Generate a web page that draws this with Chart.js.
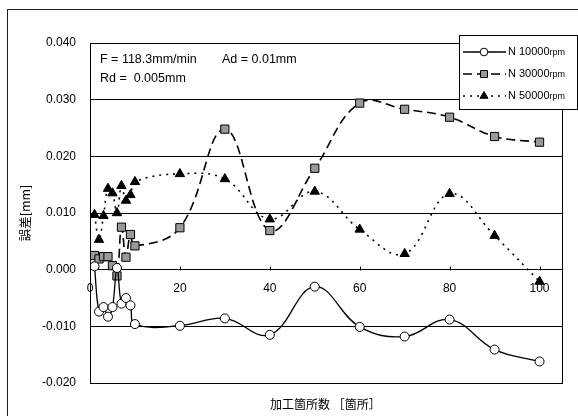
<!DOCTYPE html>
<html>
<head>
<meta charset="utf-8">
<script src="https://cdn.jsdelivr.net/npm/chart.js@4/dist/chart.umd.min.js"></script>
<style>
    body { margin: 0; background: #fff; overflow: hidden; }
    #wrap { position: relative; width: 578px; height: 416px; }
    #frame { position: absolute; left: 7px; top: 9px; width: 600px; height: 440px; border: 1.5px solid #222; }
    canvas { position: absolute; left: 0; top: 0; }
</style>
</head>
<body>
<div id="wrap">
    <div id="frame"></div>
    <canvas id="myChart" width="578" height="416"></canvas>
</div>
<script>
// measuring points (加工箇所数)
var points = [1, 2, 3, 4, 5, 6, 7, 8, 9, 10, 20, 30, 40, 50, 60, 70, 80, 90, 100];

// error [mm] per spindle speed
var n10000 = [0.0006, -0.0074, -0.0066, -0.0083, -0.0066, 0.0003, -0.0060, -0.0050, -0.0063, -0.0096,
    -0.0099, -0.0086, -0.0115, -0.0030, -0.0101, -0.0118, -0.0088, -0.0141, -0.0162];
var n30000 = [0.0025, 0.0019, 0.0023, 0.0023, 0.0007, -0.0011, 0.0075, 0.0022, 0.0062, 0.0042,
    0.0074, 0.0248, 0.0069, 0.0179, 0.0294, 0.0283, 0.0269, 0.0235, 0.0225];
var n50000 = [0.0097, 0.0053, 0.0095, 0.0143, 0.0135, 0.0100, 0.0148, 0.0122, 0.0132, 0.0155,
    0.0169, 0.0160, 0.0089, 0.0138, 0.0071, 0.0028, 0.0134, 0.0060, -0.0021];

var seriesNames = ['N 10000', 'N 30000', 'N 50000'];
var xTicks = [0, 20, 40, 60, 80, 100];

var latin = "Arial, 'Liberation Sans', sans-serif";
var cjk = "'Noto Sans CJK JP', sans-serif";

function toXY(values) {
    return values.map(function(v, i) { return {x: points[i], y: v}; });
}

var styles = [
    {pointStyle: 'circle', radius: 4.5, bg: '#fff', dash: [], width: 1.3},
    {pointStyle: 'rect', radius: 5.8, bg: '#9a9a9a', dash: [9, 5], width: 1.6},
    {pointStyle: 'triangle', radius: 5.4, bg: '#000', dash: [2, 5], width: 1.6}
];
var seriesData = [n10000, n30000, n50000];

var datasets = seriesData.map(function(values, i) {
    var s = styles[i];
    return {
        label: seriesNames[i] + 'rpm',
        data: toXY(values),
        borderColor: '#000',
        borderWidth: s.width,
        borderDash: s.dash,
        tension: 0.4,
        pointStyle: s.pointStyle,
        pointRadius: s.radius,
        pointBackgroundColor: s.bg,
        pointBorderColor: '#000',
        pointBorderWidth: 1
    };
});

var extras = {
    id: 'extras',
    afterDraw: function(chart) {
        var ctx = chart.ctx;
        var area = chart.chartArea;
        var xs = chart.scales.x;
        var ys = chart.scales.y;
        ctx.save();

        // plot box
        ctx.strokeStyle = '#000';
        ctx.lineWidth = 1;
        ctx.setLineDash([]);
        ctx.strokeRect(Math.round(area.left) + 0.5, Math.round(area.top) + 0.5,
            Math.round(area.right - area.left), Math.round(area.bottom - area.top));

        // x ticks point up from the zero line
        var y0 = Math.round(ys.getPixelForValue(0)) + 0.5;
        xTicks.forEach(function(t) {
            var px = Math.round(xs.getPixelForValue(t)) + 0.5;
            ctx.beginPath();
            ctx.moveTo(px, y0);
            ctx.lineTo(px, y0 - 4);
            ctx.stroke();
        });

        // conditions
        ctx.fillStyle = '#000';
        ctx.font = '12.5px ' + latin;
        ctx.textBaseline = 'middle';
        ctx.textAlign = 'left';
        ctx.fillText('F = 118.3mm/min', 100, 60);
        ctx.fillText('Ad = 0.01mm', 222, 60);
        ctx.fillText('Rd =  0.005mm', 100, 79);

        // axis titles
        ctx.font = '12px ' + cjk;
        ctx.fillText('加工箇所数 ［箇所］', 270, 404);
        ctx.save();
        ctx.translate(25, 213);
        ctx.rotate(-Math.PI / 2);
        ctx.textAlign = 'center';
        ctx.font = '12.5px ' + cjk;
        ctx.fillText('誤差[mm]', 0, 0);
        ctx.restore();

        // legend
        ctx.fillStyle = '#fff';
        ctx.fillRect(459, 35, 118, 74);
        ctx.strokeStyle = '#000';
        ctx.strokeRect(459.5, 35.5, 118, 74);
        var rows = [52, 74, 96];
        rows.forEach(function(ry, i) {
            var s = styles[i];
            ctx.strokeStyle = '#000';
            ctx.lineWidth = s.width;
            ctx.setLineDash(s.dash);
            ctx.beginPath();
            ctx.moveTo(463, ry);
            ctx.lineTo(506, ry);
            ctx.stroke();
            ctx.setLineDash([]);
            ctx.lineWidth = 1;
            ctx.fillStyle = s.bg;
            Chart.helpers.drawPoint(ctx, {pointStyle: s.pointStyle, radius: s.radius * 0.85, rotation: 0, borderWidth: 1}, 484, ry);
            ctx.fillStyle = '#000';
            ctx.font = '11px ' + latin;
            ctx.fillText(seriesNames[i], 508, ry);
            var w = ctx.measureText(seriesNames[i]).width;
            ctx.font = '9px ' + latin;
            ctx.fillText('rpm', 508 + w, ry + 1);
        });

        ctx.restore();
    }
};

var chart = new Chart(document.getElementById('myChart').getContext('2d'), {
    type: 'line',
    data: {datasets: datasets},
    options: {
        responsive: false,
        animation: false,
        devicePixelRatio: 1,
        layout: {padding: {left: 0, top: 43, right: 16, bottom: 33}},
        plugins: {legend: {display: false}, tooltip: {enabled: false}},
        scales: {
            x: {
                type: 'linear',
                min: 0,
                max: 105,
                position: {y: 0},
                afterBuildTicks: function(scale) {
                    scale.ticks = xTicks.map(function(v) { return {value: v}; });
                },
                grid: {display: false, drawTicks: false},
                border: {display: true, color: '#000', width: 1},
                ticks: {
                    padding: 12,
                    color: '#000',
                    font: {family: latin, size: 12},
                    maxRotation: 0
                }
            },
            y: {
                min: -0.02,
                max: 0.04,
                afterFit: function(scale) { scale.width = 90; },
                grid: {color: '#000', lineWidth: 1, drawTicks: false},
                border: {display: true, color: '#000', width: 1},
                ticks: {
                    stepSize: 0.01,
                    padding: 14,
                    color: '#000',
                    font: {family: latin, size: 12},
                    callback: function(v) {
                        if (Math.abs(v) < 1e-9) return '0.000';
                        return v.toFixed(3);
                    }
                }
            }
        }
    },
    plugins: [extras]
});
</script>
</body>
</html>
